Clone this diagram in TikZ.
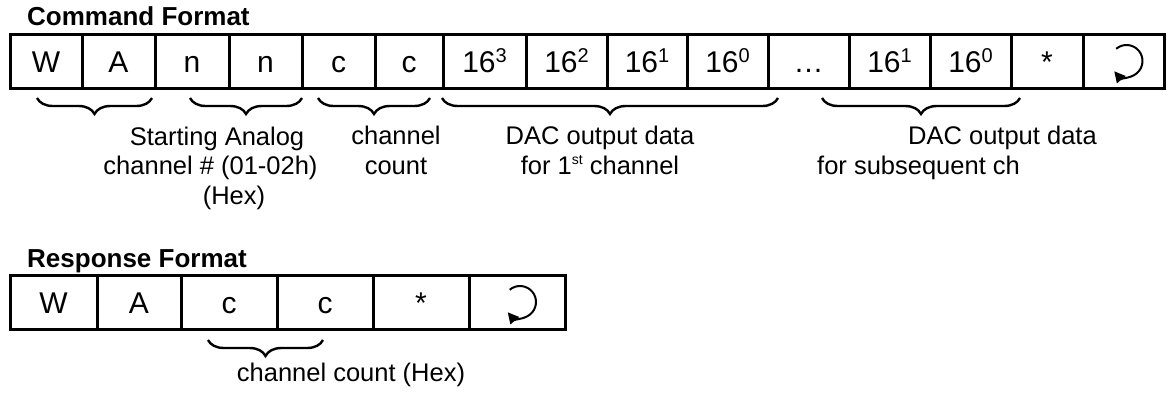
\documentclass[tikz,border=0pt]{standalone}
\usepackage{fontspec}
\setmainfont{Liberation Sans}
\usetikzlibrary{arrows.meta,decorations.pathreplacing}
\newcommand{\hexpow}[1]{\raisebox{9.5pt}{\fontsize{20}{20}\selectfont #1}}
\newcommand{\ordsup}[1]{\raisebox{10pt}{\fontsize{14}{14}\selectfont #1}}

\begin{document}
\begin{tikzpicture}[x=1pt, y=-1pt,
  fieldbox/.style={rectangle, draw=black, line width=3pt, minimum height=54pt, inner sep=0pt, text height=22pt, text depth=0pt, font=\fontsize{30}{36}\selectfont},
  titletext/.style={anchor=base west, inner sep=0pt, font=\fontsize{26}{30}\bfseries},
  notetext/.style={anchor=base, inner sep=0pt, align=center, font=\fontsize{25.5}{29.5}\selectfont},
  groupbrace/.style={decorate, decoration={brace, mirror, amplitude=16pt}, line width=2.4pt},
  retarrow/.style={-{Triangle[length=11pt,width=11pt]}, line width=2pt}
]
\useasboundingbox (0,0) rectangle (1167,394);

% Command Format
\node[titletext] (cmdtitle) at (27,25) {Command Format};
\foreach \xa/\xb/\txt [count=\i] in {10/82/W, 82/155/A, 155/229/n, 229/302/n, 302/375/c, 375/443/c,
    443/526/16\hexpow{3}, 526/607/16\hexpow{2}, 607/687/16\hexpow{1}, 687/768/16\hexpow{0},
    768/849/\dots, 849/930/16\hexpow{1}, 930/1011/16\hexpow{0}, 1011/1083/*, 1083/1164/{}}
  \node[fieldbox, minimum width=\xb-\xa] (cmd\i) at ({(\xa+\xb)/2},61) {\txt};

% Braces under the command fields
\foreach \xa/\xb in {37/152, 190/302, 318/430, 442/778, 822/1020}
  \draw[groupbrace] (\xa,98) -- (\xb,98);

% notes (anchored on the baseline of their last line)
\node[notetext] (startnote) at (210.5,204) {\hspace*{13pt}Starting Analog\\channel \# (01-02h)\\\hspace*{47pt}(Hex)};
\node[notetext] (countnote) at (396,174) {channel\\count};
\node[notetext] (firstnote) at (600,174) {DAC output data\\for 1\ordsup{st} channel};
\node[notetext, anchor=base west, align=left] (nextnote) at (817,174) {\hspace*{91pt}DAC output data\\for subsequent ch};

% Response Format
\node[titletext] (rsptitle) at (27,267) {Response Format};
\foreach \xa/\xb/\txt [count=\i] in {10/97/W, 97/181/A, 181/277/c, 277/373/c, 373/469/*, 469/565/{}}
  \node[fieldbox, minimum width=\xb-\xa] (rsp\i) at ({(\xa+\xb)/2},302) {\txt};

\draw[groupbrace] (208,340) -- (323,340);
\node[notetext] (rspnote) at (351,381) {channel count (Hex)};

% Carriage return symbols
\foreach \rc in {cmd15, rsp6}
  \draw[retarrow] ([xshift=3pt]\rc.center) ++(-130:16) arc[start angle=-130, end angle=140, radius=16];

\end{tikzpicture}
\end{document}
